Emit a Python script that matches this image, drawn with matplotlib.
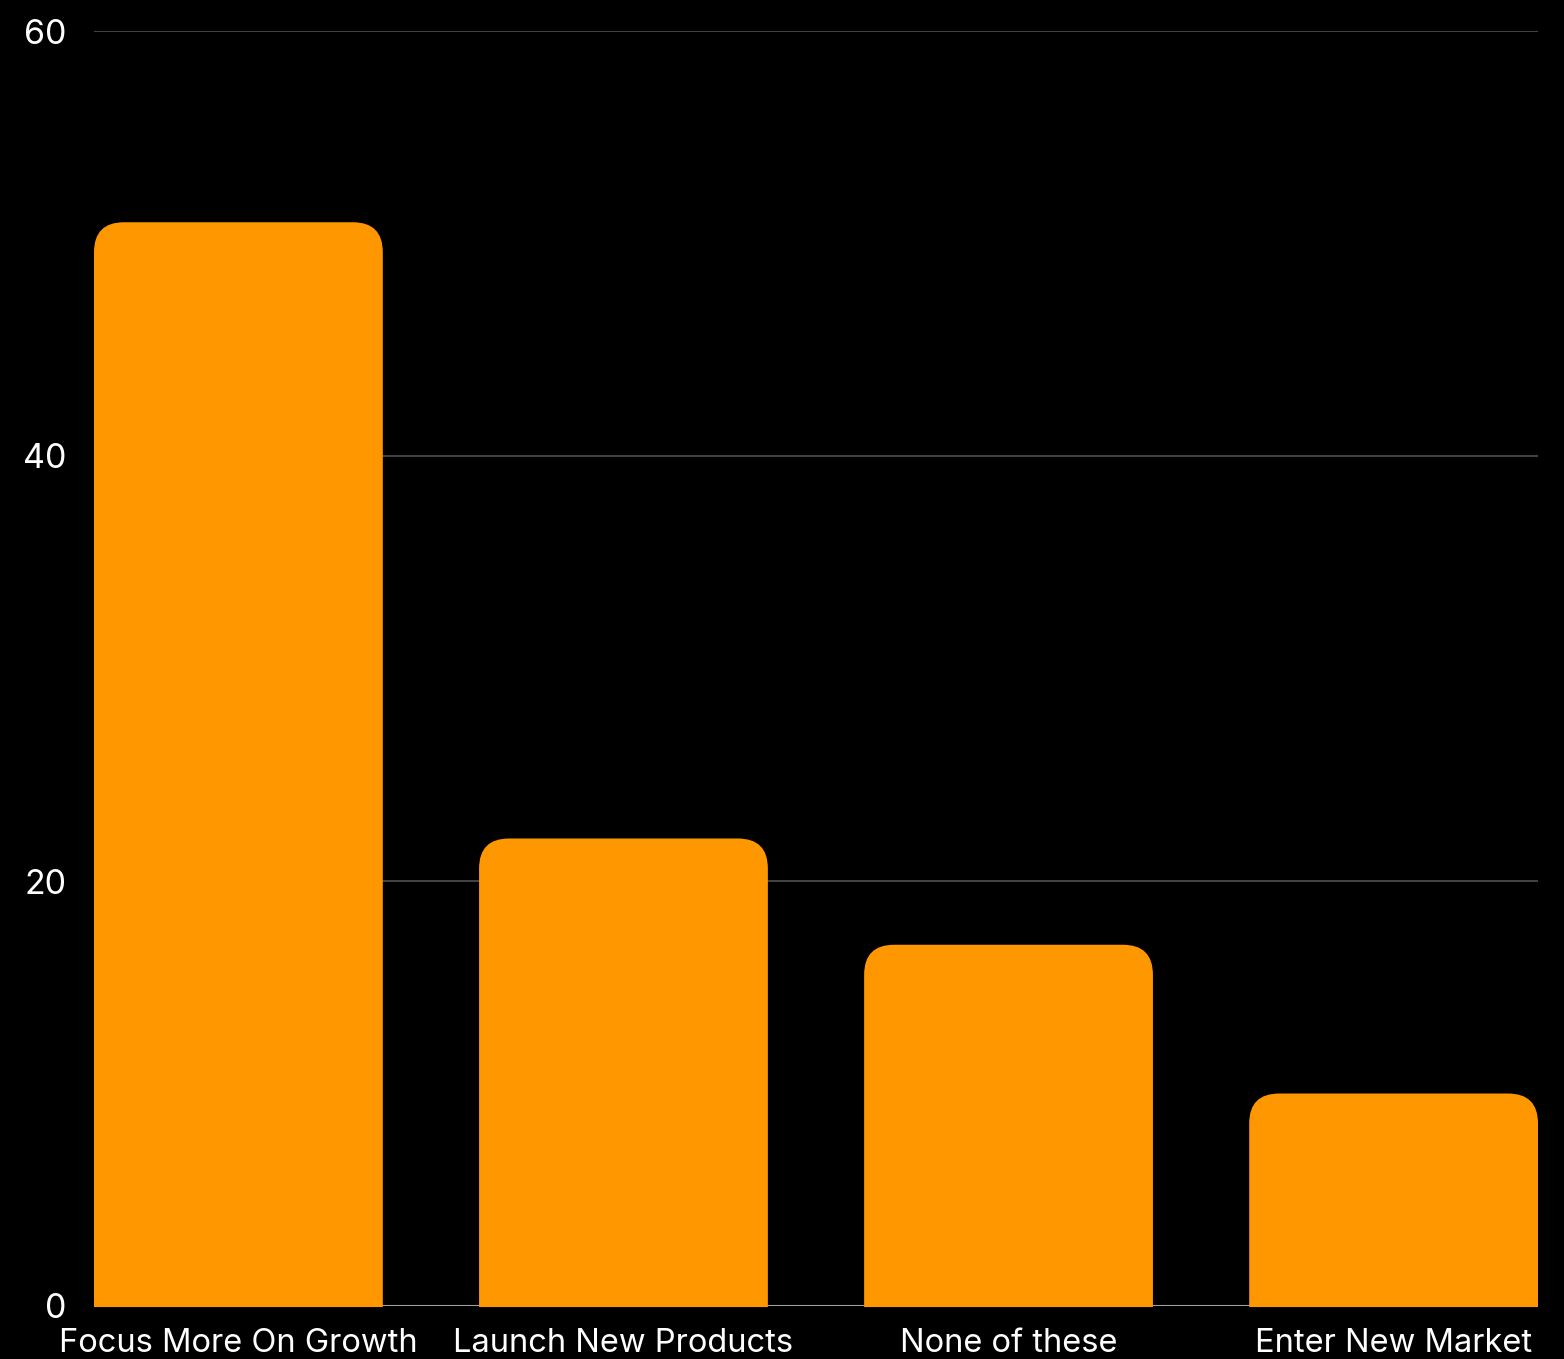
import matplotlib
matplotlib.use("Agg")
import matplotlib.pyplot as plt
from matplotlib.path import Path
from matplotlib.patches import PathPatch

categories = ["Focus More On Growth", "Launch New Products", "None of these", "Enter New Market"]
values = [51, 22, 17, 10]
yticks = [0, 20, 40, 60]

bar_color = "#FF9800"
plt.rcParams["font.family"] = ["Inter", "DejaVu Sans"]

fig = plt.figure(figsize=(15.64, 13.59), dpi=100, facecolor="black")
ax = fig.add_axes([94 / 1564, 1 - 1306 / 1359, 1444 / 1564, 1275 / 1359])
ax.set_facecolor("black")

x = list(range(len(categories)))
bars = ax.bar(x, values, width=0.75, color=bar_color, zorder=3)
ax.set_xlim(-0.375, len(categories) - 0.625)
ax.set_ylim(0, 60)

# swap the plain bars for ones with rounded top corners
fig.canvas.draw()
px_x = ax.transData.transform((1, 0))[0] - ax.transData.transform((0, 0))[0]
px_y = ax.transData.transform((0, 1))[1] - ax.transData.transform((0, 0))[1]
r = 30
rx, ry = r / px_x, r / px_y
for b in bars:
    x0, w, h = b.get_x(), b.get_width(), b.get_height()
    x1 = x0 + w
    verts = [(x0, -0.05), (x0, h - ry), (x0, h), (x0 + rx, h), (x1 - rx, h),
             (x1, h), (x1, h - ry), (x1, -0.05), (x0, -0.05)]
    codes = [Path.MOVETO, Path.LINETO, Path.CURVE3, Path.CURVE3, Path.LINETO,
             Path.CURVE3, Path.CURVE3, Path.LINETO, Path.CLOSEPOLY]
    ax.add_patch(PathPatch(Path(verts, codes), facecolor=bar_color, edgecolor="none",
                           zorder=3, clip_on=False))
    b.set_visible(False)

ax.set_yticks(yticks)
ax.set_xticks(x)
ax.set_xticklabels(categories)
ax.tick_params(axis="both", length=0, colors="white")
ax.tick_params(axis="x", labelsize=23.5, pad=16)
ax.tick_params(axis="y", labelsize=24.5, pad=20)
for t in ax.get_yticklabels():
    t.set_verticalalignment("center_baseline")

for y in yticks[1:]:
    ax.axhline(y, color="#4a4a4a", linewidth=1.3, zorder=1)
ax.axhline(0, color="#a0a0a0", linewidth=1.5, zorder=2)

for s in ax.spines.values():
    s.set_visible(False)

fig.savefig("out.png", dpi=100, facecolor="black")
